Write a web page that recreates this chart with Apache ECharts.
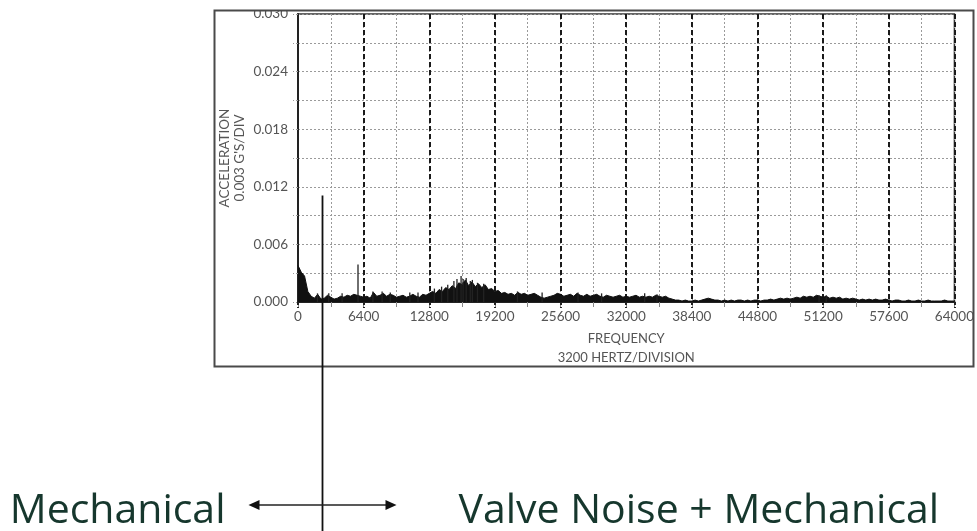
<!DOCTYPE html>
<html>
<head>
<meta charset="utf-8">
<style>
  html, body { margin: 0; padding: 0; background: #fff; }
  #chart { width: 977px; height: 531px; }
</style>
<script src="https://cdn.jsdelivr.net/npm/echarts@6/dist/echarts.min.js"></script>
</head>
<body>
<div id="chart"></div>
<script>
// Acceleration spectrum, one value per 320 Hz bin from 0 to 64000 Hz (g)
const binHz = 320;
const spectrumG = [
  0.0038, 0.0031, 0.0027, 0.0011, 0.0006, 0.0004, 0.0008, 0.0003, 0.0004, 0.0007,
  0.0005, 0.0003, 0.0004, 0.0006, 0.0005, 0.0007, 0.0006, 0.0008, 0.0007, 0.0006,
  0.0005, 0.0006, 0.0004, 0.0010, 0.0006, 0.0007, 0.0009, 0.0006, 0.0008, 0.0007,
  0.0005, 0.0006, 0.0007, 0.0005, 0.0006, 0.0008, 0.0006, 0.0005, 0.0008, 0.0007,
  0.0009, 0.0011, 0.0009, 0.0013, 0.0011, 0.0015, 0.0013, 0.0017, 0.0014, 0.0020,
  0.0018, 0.0023, 0.0017, 0.0021, 0.0016, 0.0019, 0.0015, 0.0018, 0.0013, 0.0014,
  0.0011, 0.0012, 0.0009, 0.0010, 0.0008, 0.0009, 0.0007, 0.0010, 0.0008, 0.0009,
  0.0007, 0.0008, 0.0009, 0.0007, 0.0005, 0.0004, 0.0005, 0.0006, 0.0007, 0.0009,
  0.0008, 0.0006, 0.0007, 0.0008, 0.0006, 0.0009, 0.0007, 0.0006, 0.0008, 0.0006,
  0.0007, 0.0008, 0.0006, 0.0005, 0.0007, 0.0006, 0.0005, 0.0006, 0.0007, 0.0005,
  0.0006, 0.0005, 0.0006, 0.0007, 0.0005, 0.0006, 0.0005, 0.0006, 0.0005, 0.0007,
  0.0006, 0.0005, 0.0006, 0.0004, 0.0003, 0.0002, 0.0002, 0.0001, 0.0002, 0.0001,
  0.0001, 0.0002, 0.0001, 0.0002, 0.0003, 0.0004, 0.0003, 0.0002, 0.0002, 0.0001,
  0.0002, 0.0001, 0.0002, 0.0001, 0.0002, 0.0002, 0.0001, 0.0002, 0.0001, 0.0002,
  0.0002, 0.0001, 0.0002, 0.0002, 0.0003, 0.0002, 0.0003, 0.0004, 0.0003, 0.0004,
  0.0003, 0.0004, 0.0005, 0.0004, 0.0006, 0.0005, 0.0006, 0.0005, 0.0007, 0.0006,
  0.0005, 0.0006, 0.0004, 0.0005, 0.0004, 0.0005, 0.0003, 0.0004, 0.0003, 0.0004,
  0.0003, 0.0002, 0.0003, 0.0002, 0.0003, 0.0002, 0.0003, 0.0002, 0.0002, 0.0003,
  0.0002, 0.0001, 0.0002, 0.0002, 0.0001, 0.0001, 0.0002, 0.0001, 0.0001, 0.0002,
  0.0001, 0.0001, 0.0002, 0.0001, 0.0001, 0.0001, 0.0001, 0.0002, 0.0001, 0.0001,
  0.0001
];

// Narrow discrete peaks (Hz, g)
const peakHz = [
  1900, 3000, 4300, 5850, 7300, 8200, 9000, 10900, 11700, 13300,
  14000, 14600, 15200, 15500, 15900, 16100, 16400, 16800, 17000, 17500,
  18100, 21400, 23800, 27300, 29600, 33800, 35000, 50800, 51500
];
const peakG = [
  0.0009, 0.0009, 0.0009, 0.0039, 0.0011, 0.0011, 0.0010, 0.0010, 0.0010, 0.0014,
  0.0016, 0.0018, 0.0022, 0.0024, 0.0027, 0.0024, 0.0025, 0.0022, 0.0023, 0.0020,
  0.0019, 0.0011, 0.0010, 0.0010, 0.0009, 0.0009, 0.0008, 0.0007, 0.0007
];

// Boundary between the two frequency regions
const boundaryHz = 2340;
const boundaryTopG = 0.0111;

const leftLabel = 'Mechanical';
const rightLabel = 'Valve Noise + Mechanical';

const xMin = 0, xMax = 64000, xMinor = 3200, xMajor = 6400;
const yMin = 0, yMax = 0.030, yMinor = 0.003, yMajor = 0.006;

const spectrumData = spectrumG.map((v, i) => [i * binHz, v]);
const peakData = peakHz.map((f, i) => [f, peakG[i]]);

const grey = '#555';
const chart = echarts.init(document.getElementById('chart'));

chart.setOption({
  animation: false,
  backgroundColor: '#fff',
  grid: {
    left: 298, right: 22, top: 14, bottom: 229,
    show: true, borderColor: '#333', borderWidth: 1.5, backgroundColor: 'transparent'
  },
  xAxis: [{
    type: 'value', min: xMin, max: xMax, interval: xMinor, position: 'bottom',
    axisLine: { show: true, onZero: false, lineStyle: { color: '#222', width: 2 } },
    axisTick: { show: true, length: 5, lineStyle: { color: '#888', width: 1 } },
    axisLabel: {
      margin: 8, color: grey, fontFamily: 'Lato', fontSize: 13.5,
      formatter: v => (Math.round(v / xMinor) % 2 === 0 ? String(v) : '')
    },
    splitLine: { show: true, lineStyle: { color: '#9a9a9a', width: 1, type: [2, 2] } },
    name: 'FREQUENCY\n3200 HERTZ/DIVISION',
    nameLocation: 'middle', nameGap: 27, nameMoveOverlap: false,
    nameTextStyle: { color: grey, fontFamily: 'Lato', fontSize: 13, lineHeight: 19 }
  }, {
    type: 'value', min: xMin, max: xMax, interval: xMajor, position: 'bottom',
    axisLine: { show: false },
    axisTick: { show: true, length: 6, lineStyle: { color: '#222', width: 2, type: [3, 2] } },
    axisLabel: { show: false },
    splitLine: { show: true, lineStyle: { color: '#1a1a1a', width: 2, type: [5, 3] } }
  }],
  yAxis: {
    type: 'value', min: yMin, max: yMax, interval: yMinor,
    axisLine: { show: true, lineStyle: { color: '#222', width: 2 } },
    axisTick: { show: true, length: 5, lineStyle: { color: '#9a9a9a', width: 1, type: [2, 2] } },
    axisLabel: {
      margin: 10, color: grey, fontFamily: 'Lato', fontSize: 13.5,
      formatter: v => (Math.round(v / yMinor) % 2 === 0 ? v.toFixed(3) : '')
    },
    splitLine: { show: true, lineStyle: { color: '#9a9a9a', width: 1, type: [2, 2] } },
    name: "ACCELERATION\n0.003 G'S/DIV",
    nameLocation: 'middle', nameGap: 51, nameRotate: 90, nameMoveOverlap: false,
    nameTextStyle: { color: grey, fontFamily: 'Lato', fontSize: 13.5, lineHeight: 15 }
  },
  series: [{
    type: 'line', xAxisIndex: 0, data: spectrumData,
    symbol: 'none', z: 3,
    lineStyle: { color: '#111', width: 1 },
    areaStyle: { color: '#111', opacity: 1 }
  }, {
    type: 'bar', xAxisIndex: 0, data: peakData,
    barWidth: 1.3, z: 4,
    itemStyle: { color: '#222' }
  }]
});

// Annotation: region boundary line, arrows and labels beneath the plot
const boundaryPx = chart.convertToPixel({ xAxisIndex: 0, yAxisIndex: 0 }, [boundaryHz, boundaryTopG]);
const bx = Math.round(boundaryPx[0]) + 0.5;
const arrowY = 505;
const halfSpan = 74;
const head = 9;
const textColor = '#16372d';
const labelFont = '41px "Open Sans"';

chart.setOption({
  graphic: [
    // clip strip above the outer frame
    { type: 'rect', z: 100, shape: { x: 0, y: 0, width: 977, height: 10 }, style: { fill: '#fff' } },
    // outer frame around the plot panel
    { type: 'rect', z: 101, shape: { x: 214.5, y: 10.5, width: 759, height: 356 },
      style: { fill: 'none', stroke: '#4a4a4a', lineWidth: 2 } },
    // boundary line
    { type: 'line', z: 102, shape: { x1: bx, y1: boundaryPx[1], x2: bx, y2: 531 },
      style: { stroke: '#111', lineWidth: 1.8 } },
    // double arrow
    { type: 'line', z: 102, shape: { x1: bx - halfSpan + head, y1: arrowY, x2: bx + halfSpan - head, y2: arrowY },
      style: { stroke: '#222', lineWidth: 1.5 } },
    { type: 'polygon', z: 102,
      shape: { points: [[bx - halfSpan, arrowY], [bx - halfSpan + head + 2, arrowY - 5], [bx - halfSpan + head + 2, arrowY + 5]] },
      style: { fill: '#111' } },
    { type: 'polygon', z: 102,
      shape: { points: [[bx + halfSpan, arrowY], [bx + halfSpan - head - 2, arrowY - 5], [bx + halfSpan - head - 2, arrowY + 5]] },
      style: { fill: '#111' } },
    // region labels
    { type: 'text', z: 102, x: bx - 97, y: arrowY + 6,
      style: { text: leftLabel, fill: textColor, font: labelFont, textAlign: 'right', textVerticalAlign: 'middle' } },
    { type: 'text', z: 102, x: bx + 136, y: arrowY + 6,
      style: { text: rightLabel, fill: textColor, font: labelFont, textAlign: 'left', textVerticalAlign: 'middle' } }
  ]
});
</script>
</body>
</html>
